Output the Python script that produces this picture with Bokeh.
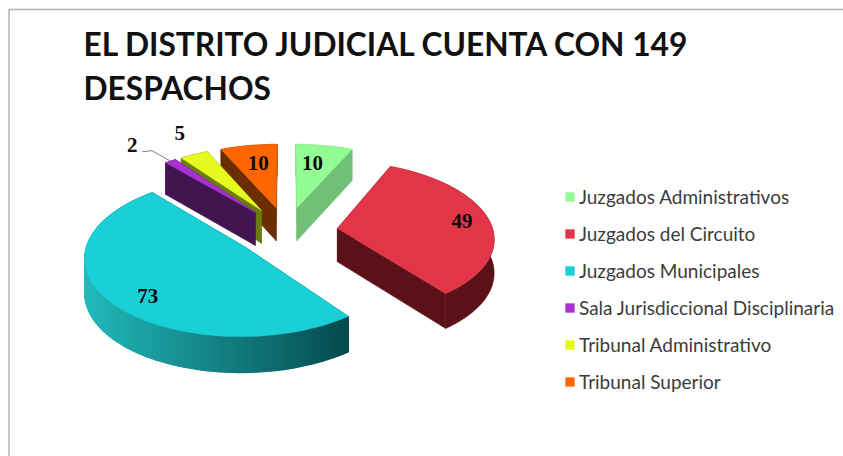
import math
from bokeh.plotting import figure
from bokeh.models import Range1d, Legend, LegendItem
from bokeh.core.properties import value
from bokeh.embed import file_html
from bokeh.resources import INLINE

# ---- data
categories = ["Juzgados Administrativos", "Juzgados del Circuito", "Juzgados Municipales",
              "Sala Jurisdiccional Disciplinaria", "Tribunal Administrativo", "Tribunal Superior"]
despachos = [10, 49, 73, 2, 5, 10]
title_lines = ["EL DISTRITO JUDICIAL CUENTA CON 149", "DESPACHOS"]

# ---- style
top_colors = ["#93fb93", "#e23648", "#18d0d6", "#a832d0", "#e6fa20", "#ff6600"]
side_colors = ["#72bf78", "#5a1218", None, "#421450", "#6b7d10", "#6b2e00"]
gradient_from, gradient_to = (0x22, 0xb8, 0xba), (0x05, 0x4a, 0x4e)
draw_order = [0, 5, 4, 3, 1, 2]
# label placement in pie polar terms: (angle offset from slice middle in degrees, radius)
label_polar = [(-2.5, 0.70), (0, 0.82), (-6.5, 0.80), (-2.8, 1.40), (3.2, 1.40), (1.1, 0.70)]
leader_polar = [(-3.3, 1.26), (-0.3, 1.23), (0, 1.0)]

# ---- projection of the tilted pie (page pixels)
CX, CY, A, B, K, EXPLODE, DEPTH = 287, 232.8, 155.8, 75.4, 0.111, 0.33, 33.5


def project(u, v, z=0.0):
    w = 1 + K * v
    return CX + A * u / w, CY - B * v / w + z / math.sqrt(w)


def slice_point(mid, t, r, z=0.0):
    u = EXPLODE * math.sin(mid) + r * math.sin(t)
    v = EXPLODE * math.cos(mid) + r * math.cos(t)
    return project(u, v, z)


p = figure(width=843, height=456, x_range=Range1d(1, 844), y_range=Range1d(458, 2),
           output_backend="svg", toolbar_location=None, min_border=0,
           outline_line_color=None, background_fill_color="white")
p.axis.visible = False
p.grid.visible = False

# frame of the slide
p.line([9.5, 9.5, 844], [458, 11, 11], line_color="#b4b4b4", line_width=1.5)

total = sum(despachos)
bounds, acc = [], 0.0
for val in despachos:
    bounds.append((acc / total * 2 * math.pi, (acc + val) / total * 2 * math.pi))
    acc += val

renderers = {}
for i in draw_order:
    t0, t1 = bounds[i]
    mid = (t0 + t1) / 2
    n = max(6, int((t1 - t0) / math.radians(2)))
    ts = [t0 + (t1 - t0) * k / n for k in range(n + 1)]
    side = side_colors[i]
    # radial walls
    for t in (t0, t1):
        a0, a1 = slice_point(mid, t, 0), slice_point(mid, t, 1)
        b0, b1 = slice_point(mid, t, 0, DEPTH), slice_point(mid, t, 1, DEPTH)
        col = side or "#%02x%02x%02x" % gradient_to
        p.patch([a0[0], a1[0], b1[0], b0[0]], [a0[1], a1[1], b1[1], b0[1]],
                fill_color=col, line_color=col, line_width=0.5)
    # outer wall: one flat band, or a band shaded along x for the big slice
    if side:
        upper = [slice_point(mid, t, 1) for t in ts]
        lower = [slice_point(mid, t, 1, DEPTH) for t in reversed(ts)]
        band = upper + lower
        p.patch([q[0] for q in band], [q[1] for q in band],
                fill_color=side, line_color=side, line_width=0.5)
    else:
        xs, ys, cols = [], [], []
        for a, b in zip(ts[:-1], ts[1:]):
            q0, q1 = slice_point(mid, a, 1), slice_point(mid, b, 1)
            q2, q3 = slice_point(mid, b, 1, DEPTH), slice_point(mid, a, 1, DEPTH)
            xs.append([q0[0], q1[0], q2[0], q3[0]])
            ys.append([q0[1], q1[1], q2[1], q3[1]])
            f = min(1, max(0, ((q0[0] + q1[0]) / 2 - 87) / 263))
            cols.append("#%02x%02x%02x" % tuple(
                int(g0 + (g1 - g0) * f) for g0, g1 in zip(gradient_from, gradient_to)))
        p.patches(xs, ys, fill_color=cols, line_color=cols, line_width=1.2)
    # top surface
    outline = [slice_point(mid, t0, 0)] + [slice_point(mid, t, 1) for t in ts]
    renderers[i] = p.patch([q[0] for q in outline], [q[1] for q in outline],
                           fill_color=top_colors[i], line_color=top_colors[i], line_width=0.5)

# value labels
for i, val in enumerate(despachos):
    t0, t1 = bounds[i]
    mid = (t0 + t1) / 2
    off, r = label_polar[i]
    x, y = slice_point(mid, mid + math.radians(off), r)
    p.text([x], [y], text=[str(val)], text_font=value("Liberation Serif"), text_font_style="bold",
           text_font_size="21px", text_color="#0a0a0a", text_align="center", text_baseline="middle")

# leader of the smallest slice
t0, t1 = bounds[3]
mid = (t0 + t1) / 2
pts = [slice_point(mid, mid + math.radians(o), r) for o, r in leader_polar]
p.line([q[0] for q in pts], [q[1] for q in pts], line_color="#7f7f7f", line_width=1)

# title
for k, line in enumerate(title_lines):
    p.text([84], [45 + k * 44], text=[line], text_font=value("Lato"), text_font_style="bold",
           text_font_size="31.7px", text_color="#111111", text_align="left", text_baseline="middle")

legend = Legend(items=[LegendItem(label=c, renderers=[renderers[i]]) for i, c in enumerate(categories)],
                location=(564, 63), orientation="vertical", border_line_color=None,
                background_fill_alpha=0, glyph_width=11, glyph_height=11, label_standoff=4,
                label_text_font="Lato", label_text_font_size="19px", label_text_color="#3c3c3c",
                label_height=20, spacing=14, margin=0, padding=0)
p.add_layout(legend, "center")

open("out.html", "w").write(file_html(p, INLINE))
